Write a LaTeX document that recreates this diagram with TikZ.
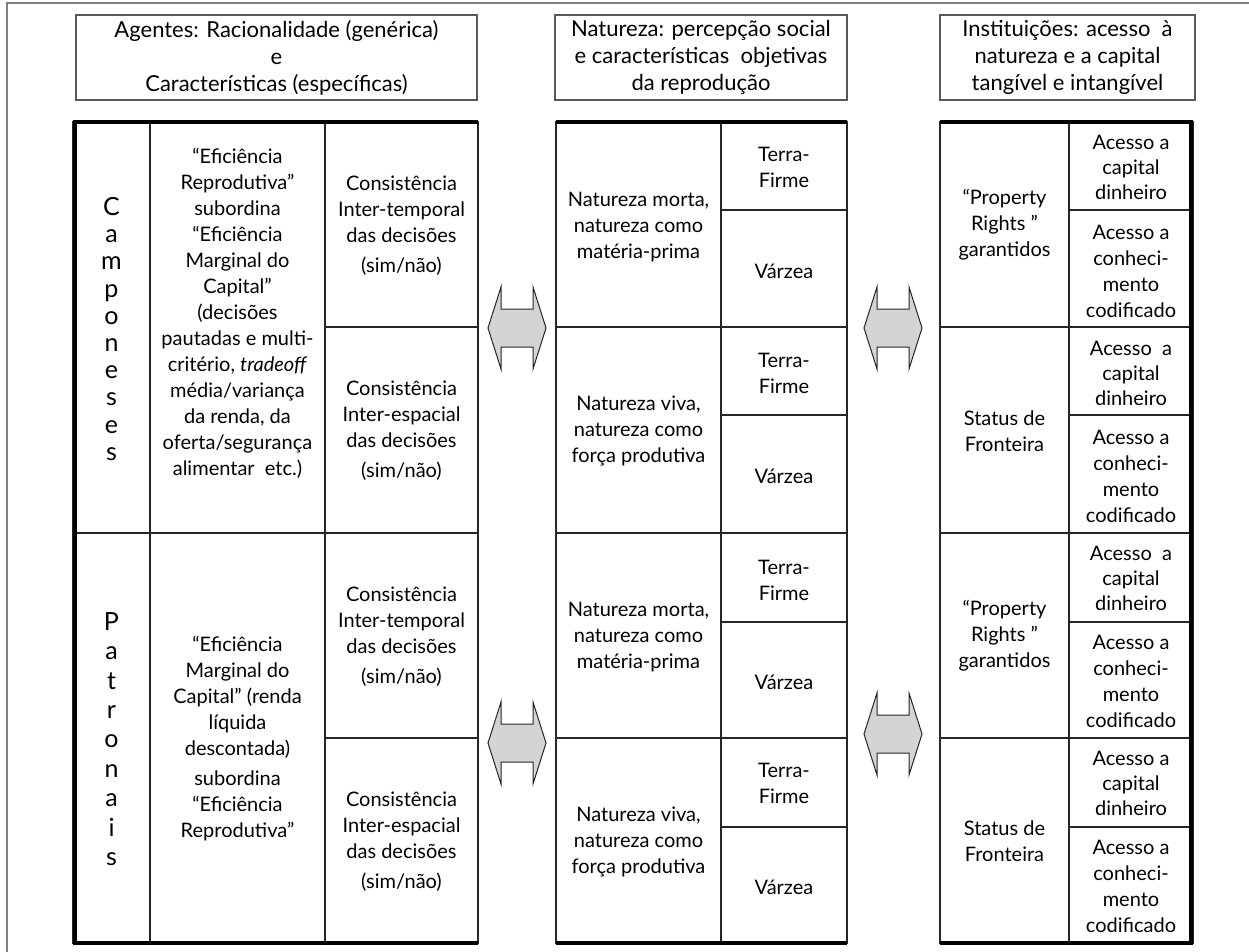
\documentclass[tikz,border=0pt]{standalone}
\usepackage{fontspec}
\setmainfont{Lato}
\begin{document}
\begin{tikzpicture}[x=1pt,y=-1pt,
  txt/.style={align=center,inner sep=0pt,font=\fontsize{20}{26}\selectfont},
  vert/.style={align=center,inner sep=0pt,font=\fontsize{25}{27.2}\selectfont},
  head/.style={draw=black!65,line width=1.2pt,align=center,inner sep=0pt,font=\fontsize{22}{27}\selectfont},
  grid/.style={draw=black!85,line width=1.3pt},
  thick border/.style={draw=black,line width=4.5pt},
  frame/.style={draw=black!50,line width=1.5pt},
  dblarr/.pic={\draw[draw=black!85,fill=black!17,line width=1pt,line join=miter]
     (-29,0) -- (-16,-41) -- (-16,-19) -- (16,-19) -- (16,-41) -- (29,0)
     -- (16,41) -- (16,19) -- (-16,19) -- (-16,41) -- cycle;}
]
\useasboundingbox (0,0) rectangle (1249,952);
\fill[white] (0,0) rectangle (1249,952);
% outer frame
\draw[frame] (7,952) -- (7,3) -- (1249,3);

% headers
\node[head,minimum width=401pt,minimum height=85pt] (h1) at (276.5,57.5)
  {Agentes: Racionalidade (genérica)\\e\\Características (específicas)};
\node[head,minimum width=292pt,minimum height=85pt] (h2) at (701,57.5)
  {Natureza: percepção social\\e características\ \ objetivas\\da reprodução};
\node[head,minimum width=255pt,minimum height=85pt] (h3) at (1067.5,57.5)
  {Instituições: acesso\ \ à\\natureza e a capital\\tangível e intangível};

% ---------- table 1 ----------
\draw[grid] (73,122) rectangle (478,943);
\draw[grid] (150,122) -- (150,943);
\draw[grid] (325,122) -- (325,943);
\draw[grid] (73,533) -- (478,533);
\draw[grid] (325,327) -- (478,327);
\draw[grid] (325,738) -- (478,738);
\draw[thick border] (75,943) -- (75,122) -- (478,122);
\draw[thick border] (73,943) -- (478,943);

% ---------- table 2 ----------
\draw[grid] (556,122) rectangle (847,943);
\draw[grid] (721,122) -- (721,943);
\foreach \yy in {327,533,738} \draw[grid] (556,\yy) -- (847,\yy);
\foreach \yy in {210,415,622,827} \draw[grid] (721,\yy) -- (847,\yy);
\draw[thick border] (556,122) -- (847,122);
\draw[thick border] (556,943) -- (847,943);

% ---------- table 3 ----------
\draw[grid] (940,122) rectangle (1193,943);
\draw[grid] (1069,122) -- (1069,943);
\foreach \yy in {327,533,738} \draw[grid] (940,\yy) -- (1193,\yy);
\foreach \yy in {210,415,622,827} \draw[grid] (1069,\yy) -- (1193,\yy);
\draw[thick border] (940,122) -- (1191,122) -- (1191,943) -- (940,943);

% ---------- arrows ----------
\pic at (517,328) {dblarr};
\pic at (517,743) {dblarr};
\pic at (893,328) {dblarr};
\pic at (893,734) {dblarr};

% ---------- table 1 texts ----------
\node[vert] (camp) at (111.5,329) {C\\a\\m\\p\\o\\n\\e\\s\\e\\s};
\node[vert,font=\fontsize{25}{29.4}\selectfont] (patr) at (111.5,739) {P\\a\\t\\r\\o\\n\\a\\i\\s};
\node[txt] (ef1) at (237.5,313) {“Eficiência\\Reprodutiva”\\subordina\\“Eficiência\\Marginal do\\Capital”\\(decisões\\pautadas e multi-\\critério, \textit{tradeoff}\\média/variança\\da renda, da\\oferta/segurança\\alimentar\ \ etc.)};
\node[txt] (ct1) at (401.5,226) {Consistência\\Inter-temporal\\das decisões\\[4pt](sim/não)};
\node[txt] (ce1) at (401.5,431) {Consistência\\Inter-espacial\\das decisões\\[4pt](sim/não)};
\node[txt] (ef2) at (237.5,739) {“Eficiência\\Marginal do\\Capital” (renda\\líquida\\descontada)\\[4pt]subordina\\“Eficiência\\Reprodutiva”};
\node[txt] (ct2) at (401.5,637) {Consistência\\Inter-temporal\\das decisões\\[4pt](sim/não)};
\node[txt] (ce2) at (401.5,842) {Consistência\\Inter-espacial\\das decisões\\[4pt](sim/não)};

% ---------- table 2 texts ----------
\node[txt] (nm1) at (638.5,227) {Natureza morta,\\natureza como\\matéria-prima};
\node[txt] (nv1) at (638.5,431) {Natureza viva,\\natureza como\\força produtiva};
\node[txt] (nm2) at (638.5,637) {Natureza morta,\\natureza como\\matéria-prima};
\node[txt] (nv2) at (638.5,842) {Natureza viva,\\natureza como\\força produtiva};
\node[txt] (tf1) at (784,167) {Terra-\\Firme};
\node[txt] (vz1) at (784,271) {Várzea};
\node[txt] (tf2) at (784,373) {Terra-\\Firme};
\node[txt] (vz2) at (784,476) {Várzea};
\node[txt] (tf3) at (784,580) {Terra-\\Firme};
\node[txt] (vz3) at (784,682) {Várzea};
\node[txt] (tf4) at (784,783) {Terra-\\Firme};
\node[txt] (vz4) at (784,887) {Várzea};

% ---------- table 3 texts ----------
\node[txt] (pr1) at (1004.5,225) {“Property\\Rights ”\\garantidos};
\node[txt] (sf1) at (1004.5,431) {Status de\\Fronteira};
\node[txt] (pr2) at (1004.5,636) {“Property\\Rights ”\\garantidos};
\node[txt] (sf2) at (1004.5,841) {Status de\\Fronteira};
\node[txt,font=\fontsize{20}{25}\selectfont] (a1) at (1131,167) {Acesso a\\capital\\dinheiro};
\node[txt] (a2) at (1131,271) {Acesso a\\conheci-\\mento\\codificado};
\node[txt,font=\fontsize{20}{25}\selectfont] (a3) at (1131,373) {Acesso\ \ a\\capital\\dinheiro};
\node[txt] (a4) at (1131,476) {Acesso a\\conheci-\\mento\\codificado};
\node[txt,font=\fontsize{20}{25}\selectfont] (a5) at (1131,578) {Acesso\ \ a\\capital\\dinheiro};
\node[txt] (a6) at (1131,681) {Acesso a\\conheci-\\mento\\codificado};
\node[txt,font=\fontsize{20}{25}\selectfont] (a7) at (1131,783) {Acesso a\\capital\\dinheiro};
\node[txt] (a8) at (1131,886) {Acesso a\\conheci-\\mento\\codificado};
\end{tikzpicture}
\end{document}
